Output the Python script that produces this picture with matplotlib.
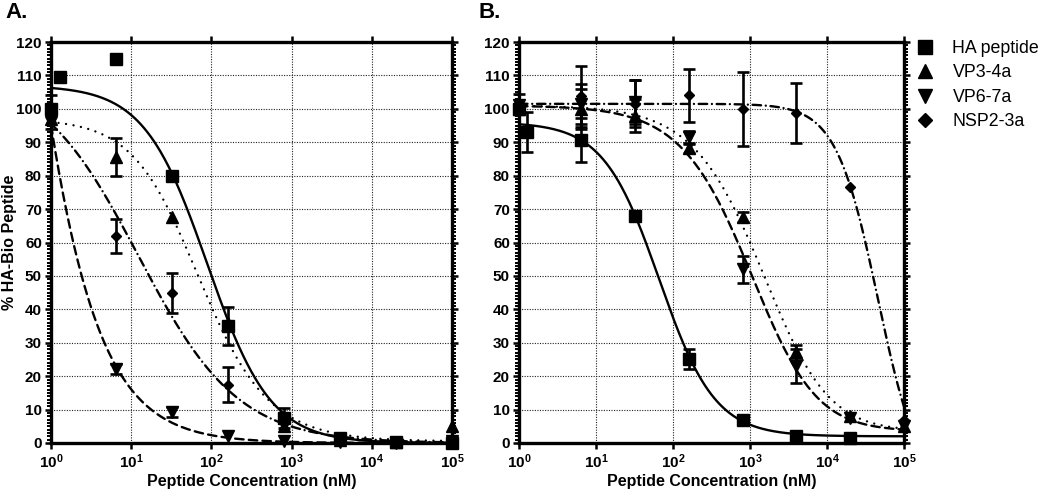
import numpy as np
import matplotlib
matplotlib.use('Agg')
import matplotlib.pyplot as plt
from matplotlib.lines import Line2D
from matplotlib.ticker import FixedLocator, MultipleLocator, FuncFormatter, NullLocator

plt.rcParams['font.family'] = ['Liberation Sans', 'DejaVu Sans']
plt.rcParams['mathtext.fontset'] = 'custom'
plt.rcParams['mathtext.rm'] = 'Liberation Sans:bold'
plt.rcParams['mathtext.bf'] = 'Liberation Sans:bold'
plt.rcParams['mathtext.it'] = 'Liberation Sans:bold:italic'

# ---------------- data ----------------
series_names = ['HA peptide', 'VP3-4a', 'VP6-7a', 'NSP2-3a']
conc_nM = [1, 1.28, 6.4, 32, 160, 800, 4000, 20000, 100000]
nan = np.nan

# Panel A : mean % HA-Bio peptide and error
a_ha = [100, 109.5, 115, 80, 35, 7.5, 1.5, 0.3, 0.0]
a_ha_err = [0, 0, 0, 0, 5.7, 3, 0, 0, 0]
a_vp3 = [97, nan, 85.6, 67.7, 36, 5, 1, 0.3, 5]
a_vp3_err = [0, 0, 5.8, 0, 0, 0, 0, 0, 0]
a_vp6 = [96, nan, 22, 9.3, 2, 0.6, 0.2, 0, 0.5]
a_vp6_err = [0, 0, 1.5, 1.5, 0, 0, 0, 0, 0]
a_nsp = [99, nan, 62, 45, 17.5, 6, 1, 0.3, 0.5]
a_nsp_err = [5, 0, 5, 6, 5.2, 0, 0, 0, 0]

# Panel B
b_ha = [100, 93, 90.7, 68, 25, 7, 2.2, 1.5, nan]
b_ha_err = [0, 6, 6.5, 0, 3, 0, 0, 0, 0]
b_vp3 = [100, nan, 100, 98, 88.3, 67.7, 27.3, 8, 5]
b_vp3_err = [0, 0, 6, 5, 1.5, 1.5, 2, 0, 0]
b_vp6 = [101, nan, 101.5, 102, 91.5, 52, 23, 7.5, 5]
b_vp6_err = [0, 0, 6, 6.5, 2, 4, 5, 0, 0]
b_nsp = [101.5, nan, 103.7, 101.5, 104, 100, 98.8, 76.5, 7]
b_nsp_err = [3, 0, 9, 7, 8, 11, 9, 0, 0]

# fitted dose-response curves: [top, bottom, logIC50, hill, asymmetry]
a_fit_ha = [107, 0, 1.95, 1.1, 1.0]
a_fit_vp3 = [97, 0.5, 1.73, 1.1, 0.8]
a_fit_vp6 = [500, 0, -0.74, 0.85, 1.0]
a_fit_nsp = [112, 0, 1.09, 0.7, 1.0]
b_fit_ha = [96, 2, 1.82, 1.2, 1.0]
b_fit_vp3 = [101, 3.5, 3.358, 0.9, 1.4]
b_fit_vp6 = [101, 3.5, 3.2, 0.9, 1.4]
b_fit_nsp = [101.5, -15, 4.66, 1.6, 1.0]

x_ticks = [1, 10, 100, 1000, 10000, 100000]

# ---------------- styles ----------------
markers = ['s', '^', 'v', 'D']
msizes = [8.5, 8, 8, 5.5]
linestyles = ['-', (0, (0.01, 3.2)), (0, (3.6, 2.2)), (0, (3.6, 2.0, 0.01, 2.0))]


def dose_response(logx, p):
    top, bottom, c, h, s = p
    return bottom + (top - bottom) / (1 + 10 ** ((logx - c) * h)) ** s


W, H = 1050, 491
fig = plt.figure(figsize=(W / 100, H / 100), dpi=100)


def px_axes(left, top, right, bottom):
    return fig.add_axes([left / W, 1 - bottom / H, (right - left) / W, (bottom - top) / H])


axA = px_axes(51, 42, 452, 443)
axB = px_axes(519, 42, 904, 443)

panels = [
    (axA, [a_ha, a_vp3, a_vp6, a_nsp], [a_ha_err, a_vp3_err, a_vp6_err, a_nsp_err],
     [a_fit_ha, a_fit_vp3, a_fit_vp6, a_fit_nsp]),
    (axB, [b_ha, b_vp3, b_vp6, b_nsp], [b_ha_err, b_vp3_err, b_vp6_err, b_nsp_err],
     [b_fit_ha, b_fit_vp3, b_fit_vp6, b_fit_nsp]),
]

xs = np.logspace(0, 5, 500)
for ax, ys, errs, fits in panels:
    ax.set_xscale('log')
    ax.set_xlim(1, 1e5)
    ax.set_ylim(0, 120)
    ax.xaxis.set_major_locator(FixedLocator(x_ticks))
    ax.xaxis.set_minor_locator(NullLocator())
    ax.xaxis.set_major_formatter(FuncFormatter(lambda v, pos: r'$\mathbf{10^{%d}}$' % round(np.log10(v))))
    ax.yaxis.set_major_locator(MultipleLocator(10))
    ax.yaxis.set_minor_locator(MultipleLocator(1))
    ax.grid(True, which='major', linestyle=(0, (1, 1.3)), linewidth=0.8, color='#222222')
    ax.set_axisbelow(True)
    for sp in ax.spines.values():
        sp.set_linewidth(2.4)
    ax.tick_params(axis='both', which='major', direction='out', width=1.8, length=4.5,
                   labelsize=11, pad=2)
    ax.tick_params(axis='y', which='both', left=True, right=True, direction='out')
    ax.tick_params(axis='y', which='minor', width=1.4, length=3)
    ax.tick_params(axis='x', top=True, bottom=True)
    for lab in ax.get_yticklabels():
        lab.set_fontweight('bold')

    for i in range(4):
        ax.plot(xs, dose_response(np.log10(xs), fits[i]), color='k', lw=1.7,
                linestyle=linestyles[i], dash_capstyle='round', zorder=3)
        c = np.array(conc_nM, dtype=float)
        y = np.array(ys[i], dtype=float)
        e = np.array(errs[i], dtype=float)
        m = (e > 0) & ~np.isnan(y)
        if m.any():
            ax.errorbar(c[m], y[m], yerr=e[m], fmt='none', ecolor='k', elinewidth=1.9,
                        capsize=4.5, capthick=1.9, zorder=4, clip_on=False)
        ax.plot(c, y, linestyle='none', marker=markers[i], ms=msizes[i], color='k',
                zorder=5, clip_on=False)

    ax.set_xlabel('Peptide Concentration (nM)', fontsize=11.5, fontweight='bold')
    ax.xaxis.set_label_coords(0.5, -0.078)

axA.set_ylabel('% HA-Bio Peptide', fontsize=11.5, fontweight='bold')
axA.yaxis.set_label_coords((17 - 51) / 401, 0.5)

fig.text(5 / W, 1 - 18 / H, 'A.', fontsize=16, fontweight='bold', va='baseline')
fig.text(478 / W, 1 - 18 / H, 'B.', fontsize=16, fontweight='bold', va='baseline')

handles = [Line2D([], [], linestyle='none', marker=markers[i], color='k',
                  ms=[10.5, 10.5, 10.5, 7.5][i]) for i in range(4)]
fig.legend(handles, series_names, loc='upper left', bbox_to_anchor=(916 / W, 1 - 40 / H),
           frameon=False, fontsize=12.8, handlelength=1.0, handletextpad=1.05,
           labelspacing=0.42, borderpad=0, borderaxespad=0)

fig.savefig('out.png', dpi=100)
